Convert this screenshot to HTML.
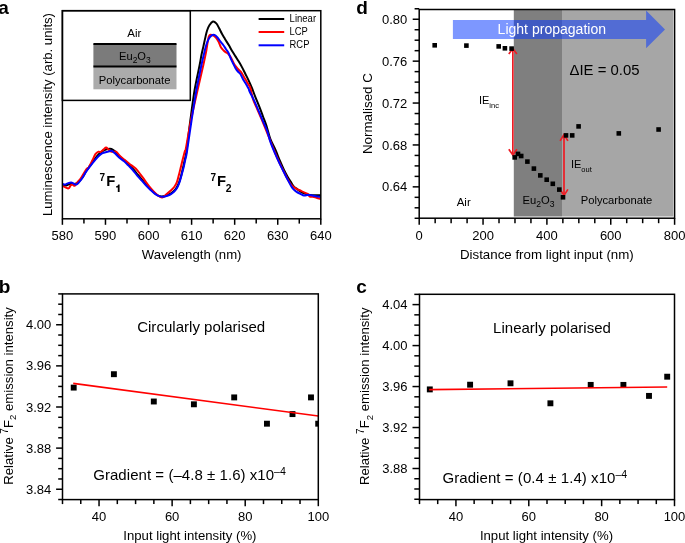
<!DOCTYPE html>
<html><head><meta charset="utf-8"><style>
html,body{margin:0;padding:0;background:#fff;}
svg{display:block;will-change:transform;}
text{font-family:"Liberation Sans", sans-serif;}
</style></head><body>
<svg width="685" height="543" viewBox="0 0 685 543" font-family='"Liberation Sans", sans-serif'>
<rect width="685" height="543" fill="#fff"/>
<text x="-1.8" y="13.6" font-size="19" font-weight="bold">a</text>
<rect x="93.40" y="44.00" width="83.10" height="22.60" fill="#7b7b7b"/>
<rect x="93.40" y="66.60" width="83.10" height="22.70" fill="#ababab"/>
<line x1="93.40" y1="44.10" x2="176.50" y2="44.10" stroke="#000" stroke-width="2.0"/>
<line x1="93.40" y1="66.50" x2="176.50" y2="66.50" stroke="#000" stroke-width="2.0"/>
<text x="134.3" y="36.7" font-size="11.5" text-anchor="middle">Air</text>
<text x="134.9" y="60.2" font-size="11.1" text-anchor="middle">Eu<tspan font-size="8.5" dy="3.2">2</tspan><tspan dy="-3.2">O</tspan><tspan font-size="8.5" dy="3.2">3</tspan></text>
<text x="134.6" y="83.5" font-size="11.7" text-anchor="middle" textLength="71.8" lengthAdjust="spacingAndGlyphs">Polycarbonate</text>
<rect x="62.40" y="10.70" width="127.90" height="89.70" fill="none" stroke="#000" stroke-width="1.5"/>
<clipPath id="ca"><rect x="62.4" y="10.7" width="258.40000000000003" height="208.10000000000002"/></clipPath>
<g clip-path="url(#ca)">
<path d="M62.00,184.50 C62.67,184.67 64.67,185.58 66.00,185.50 C67.33,185.42 68.67,184.25 70.00,184.00 C71.33,183.75 72.67,184.25 74.00,184.00 C75.33,183.75 76.62,183.57 78.00,182.50 C79.38,181.43 80.92,179.55 82.30,177.60 C83.68,175.65 84.95,172.87 86.30,170.80 C87.65,168.73 89.05,167.08 90.40,165.20 C91.75,163.32 93.05,161.28 94.40,159.50 C95.75,157.72 97.15,155.88 98.50,154.50 C99.85,153.12 101.15,152.07 102.50,151.20 C103.85,150.33 105.35,149.70 106.60,149.30 C107.85,148.90 108.93,148.72 110.00,148.80 C111.07,148.88 112.00,149.22 113.00,149.80 C114.00,150.38 114.83,151.13 116.00,152.30 C117.17,153.47 118.58,155.42 120.00,156.80 C121.42,158.18 123.00,159.27 124.50,160.60 C126.00,161.93 127.50,163.33 129.00,164.80 C130.50,166.27 132.00,167.70 133.50,169.40 C135.00,171.10 136.50,173.20 138.00,175.00 C139.50,176.80 141.00,178.47 142.50,180.20 C144.00,181.93 145.50,183.72 147.00,185.40 C148.50,187.08 150.00,188.83 151.50,190.30 C153.00,191.77 154.58,193.22 156.00,194.20 C157.42,195.18 158.75,195.85 160.00,196.20 C161.25,196.55 162.33,196.47 163.50,196.30 C164.67,196.13 165.75,195.70 167.00,195.20 C168.25,194.70 169.67,194.17 171.00,193.30 C172.33,192.43 173.83,191.38 175.00,190.00 C176.17,188.62 177.08,187.00 178.00,185.00 C178.92,183.00 179.75,180.50 180.50,178.00 C181.25,175.50 181.83,172.83 182.50,170.00 C183.17,167.17 183.83,164.17 184.50,161.00 C185.17,157.83 185.52,157.83 186.50,151.00 C187.48,144.17 189.05,130.17 190.40,120.00 C191.75,109.83 193.05,99.20 194.60,90.00 C196.15,80.80 198.55,70.68 199.70,64.80 C200.85,58.92 200.88,57.77 201.50,54.70 C202.12,51.63 202.78,49.17 203.40,46.40 C204.02,43.63 204.60,40.72 205.20,38.10 C205.80,35.48 206.30,32.85 207.00,30.70 C207.70,28.55 208.40,26.73 209.40,25.20 C210.40,23.67 211.85,21.80 213.00,21.50 C214.15,21.20 215.30,22.32 216.30,23.40 C217.30,24.48 218.08,26.32 219.00,28.00 C219.92,29.68 220.88,31.82 221.80,33.50 C222.72,35.18 223.70,36.75 224.50,38.10 C225.30,39.45 225.88,40.45 226.60,41.60 C227.32,42.75 227.88,43.43 228.80,45.00 C229.72,46.57 230.98,49.10 232.10,51.00 C233.22,52.90 234.38,54.63 235.50,56.40 C236.62,58.17 237.70,59.77 238.80,61.60 C239.90,63.43 241.00,65.33 242.10,67.40 C243.20,69.47 244.30,71.80 245.40,74.00 C246.50,76.20 247.60,78.25 248.70,80.60 C249.80,82.95 250.92,85.43 252.00,88.10 C253.08,90.77 253.92,93.35 255.20,96.60 C256.48,99.85 258.40,104.28 259.70,107.60 C261.00,110.92 261.90,113.55 263.00,116.50 C264.10,119.45 265.10,121.62 266.30,125.30 C267.50,128.98 268.67,134.48 270.20,138.60 C271.73,142.72 273.87,146.27 275.50,150.00 C277.13,153.73 278.58,157.67 280.00,161.00 C281.42,164.33 282.67,167.25 284.00,170.00 C285.33,172.75 286.75,175.33 288.00,177.50 C289.25,179.67 290.55,181.52 291.50,183.00 C292.45,184.48 292.72,185.35 293.70,186.40 C294.68,187.45 296.05,188.32 297.40,189.30 C298.75,190.28 300.33,191.50 301.80,192.30 C303.27,193.10 304.73,193.67 306.20,194.10 C307.67,194.53 309.12,194.72 310.60,194.90 C312.08,195.08 313.48,195.15 315.10,195.20 C316.72,195.25 319.43,195.20 320.30,195.20" fill="none" stroke="#000" stroke-width="2.0" stroke-linejoin="round" stroke-linecap="round"/>
<path d="M62.00,185.60 C62.50,185.85 63.90,186.63 65.00,187.10 C66.10,187.57 67.67,188.65 68.60,188.40 C69.53,188.15 69.93,186.23 70.60,185.60 C71.27,184.97 71.92,184.57 72.60,184.60 C73.28,184.63 73.93,186.13 74.70,185.80 C75.47,185.47 76.10,183.98 77.20,182.60 C78.30,181.22 79.78,179.70 81.30,177.50 C82.82,175.30 85.05,171.12 86.30,169.40 C87.55,167.68 87.78,168.72 88.80,167.20 C89.82,165.68 91.30,162.47 92.40,160.30 C93.50,158.13 94.38,155.63 95.40,154.20 C96.42,152.77 97.65,152.07 98.50,151.70 C99.35,151.33 99.67,152.35 100.50,152.00 C101.33,151.65 102.57,150.33 103.50,149.60 C104.43,148.87 105.25,147.60 106.10,147.60 C106.95,147.60 107.68,148.90 108.60,149.60 C109.52,150.30 110.37,151.47 111.60,151.80 C112.83,152.13 114.52,150.80 116.00,151.60 C117.48,152.40 118.83,155.03 120.50,156.60 C122.17,158.17 124.17,159.53 126.00,161.00 C127.83,162.47 129.85,164.12 131.50,165.40 C133.15,166.68 134.42,167.22 135.90,168.70 C137.38,170.18 138.92,172.37 140.40,174.30 C141.88,176.23 143.33,178.28 144.80,180.30 C146.27,182.32 147.73,184.55 149.20,186.40 C150.67,188.25 152.13,189.88 153.60,191.40 C155.07,192.92 156.58,194.47 158.00,195.50 C159.42,196.53 160.75,197.75 162.10,197.60 C163.45,197.45 164.75,195.70 166.10,194.60 C167.45,193.50 168.85,192.27 170.20,191.00 C171.55,189.73 173.10,188.43 174.20,187.00 C175.30,185.57 176.03,184.35 176.80,182.40 C177.57,180.45 178.13,177.83 178.80,175.30 C179.47,172.77 180.13,169.90 180.80,167.20 C181.47,164.50 182.12,161.80 182.80,159.10 C183.48,156.40 184.43,152.52 184.90,151.00 C185.37,149.48 184.58,155.17 185.60,150.00 C186.62,144.83 189.00,130.00 191.00,120.00 C193.00,110.00 195.53,99.20 197.60,90.00 C199.67,80.80 201.98,71.15 203.40,64.80 C204.82,58.45 205.18,56.65 206.10,51.90 C207.02,47.15 207.82,39.07 208.90,36.30 C209.98,33.53 211.37,35.00 212.60,35.30 C213.83,35.60 215.23,36.87 216.30,38.10 C217.37,39.33 218.23,41.17 219.00,42.70 C219.77,44.23 220.13,46.00 220.90,47.30 C221.67,48.60 222.75,49.65 223.60,50.50 C224.45,51.35 225.37,51.97 226.00,52.40 C226.63,52.83 226.82,52.58 227.40,53.10 C227.98,53.62 228.85,54.63 229.50,55.50 C230.15,56.37 230.45,56.73 231.30,58.30 C232.15,59.87 233.50,63.12 234.60,64.90 C235.70,66.68 236.78,67.77 237.90,69.00 C239.02,70.23 240.33,71.05 241.30,72.30 C242.27,73.55 242.88,75.12 243.70,76.50 C244.52,77.88 245.37,79.22 246.20,80.60 C247.03,81.98 248.00,83.55 248.70,84.80 C249.40,86.05 249.65,85.60 250.40,88.10 C251.15,90.60 252.17,96.55 253.20,99.80 C254.23,103.05 255.48,105.00 256.60,107.60 C257.72,110.20 258.80,112.82 259.90,115.40 C261.00,117.98 261.38,118.67 263.20,123.10 C265.02,127.53 268.80,137.02 270.80,142.00 C272.80,146.98 273.73,149.50 275.20,153.00 C276.67,156.50 278.13,159.83 279.60,163.00 C281.07,166.17 282.72,169.43 284.00,172.00 C285.28,174.57 286.22,176.43 287.30,178.40 C288.38,180.37 289.32,182.28 290.50,183.80 C291.68,185.32 293.13,186.52 294.40,187.50 C295.67,188.48 296.98,189.15 298.10,189.70 C299.22,190.25 300.00,190.30 301.10,190.80 C302.20,191.30 303.60,192.20 304.70,192.70 C305.80,193.20 306.83,193.13 307.70,193.80 C308.57,194.47 309.03,196.22 309.90,196.70 C310.77,197.18 311.80,196.52 312.90,196.70 C314.00,196.88 315.27,197.43 316.50,197.80 C317.73,198.17 319.67,198.72 320.30,198.90" fill="none" stroke="#ff0000" stroke-width="2.0" stroke-linejoin="round" stroke-linecap="round"/>
<path d="M62.00,183.80 C62.50,183.93 64.07,184.67 65.00,184.60 C65.93,184.53 66.58,183.77 67.60,183.40 C68.62,183.03 70.08,182.37 71.10,182.40 C72.12,182.43 72.85,183.23 73.70,183.60 C74.55,183.97 75.37,184.77 76.20,184.60 C77.03,184.43 77.68,183.70 78.70,182.60 C79.72,181.50 81.03,179.87 82.30,178.00 C83.57,176.13 84.95,173.43 86.30,171.40 C87.65,169.37 89.05,167.57 90.40,165.80 C91.75,164.03 93.05,162.40 94.40,160.80 C95.75,159.20 97.15,157.47 98.50,156.20 C99.85,154.93 101.15,153.90 102.50,153.20 C103.85,152.50 105.63,152.27 106.60,152.00 C107.57,151.73 107.47,151.82 108.30,151.60 C109.13,151.38 110.50,150.42 111.60,150.70 C112.70,150.98 113.60,152.13 114.90,153.30 C116.20,154.47 117.92,156.42 119.40,157.70 C120.88,158.98 122.33,159.72 123.80,161.00 C125.27,162.28 126.73,163.93 128.20,165.40 C129.67,166.87 131.13,168.13 132.60,169.80 C134.07,171.47 135.52,173.65 137.00,175.40 C138.48,177.15 140.02,178.65 141.50,180.30 C142.98,181.95 144.43,183.73 145.90,185.30 C147.37,186.87 148.83,188.32 150.30,189.70 C151.77,191.08 153.25,192.53 154.70,193.60 C156.15,194.67 157.68,195.57 159.00,196.10 C160.32,196.63 161.42,196.80 162.60,196.80 C163.78,196.80 164.83,196.47 166.10,196.10 C167.37,195.73 168.85,195.37 170.20,194.60 C171.55,193.83 173.02,192.68 174.20,191.50 C175.38,190.32 176.37,189.18 177.30,187.50 C178.23,185.82 179.05,183.60 179.80,181.40 C180.55,179.20 181.12,176.83 181.80,174.30 C182.48,171.77 183.30,168.73 183.90,166.20 C184.50,163.67 184.90,161.47 185.40,159.10 C185.90,156.73 185.87,158.52 186.90,152.00 C187.93,145.48 190.02,130.33 191.60,120.00 C193.18,109.67 194.75,99.20 196.40,90.00 C198.05,80.80 200.27,70.68 201.50,64.80 C202.73,58.92 203.03,57.92 203.80,54.70 C204.57,51.48 205.25,48.18 206.10,45.50 C206.95,42.82 207.97,40.30 208.90,38.60 C209.83,36.90 210.78,35.92 211.70,35.30 C212.62,34.68 213.48,34.58 214.40,34.90 C215.32,35.22 216.28,36.20 217.20,37.20 C218.12,38.20 218.83,39.52 219.90,40.90 C220.97,42.28 222.58,44.12 223.60,45.50 C224.62,46.88 225.22,48.03 226.00,49.20 C226.78,50.37 227.53,51.00 228.30,52.50 C229.07,54.00 229.82,56.42 230.60,58.20 C231.38,59.98 232.18,61.53 233.00,63.20 C233.82,64.87 234.68,66.82 235.50,68.20 C236.32,69.58 237.08,70.53 237.90,71.50 C238.72,72.47 239.57,72.75 240.40,74.00 C241.23,75.25 242.07,77.48 242.90,79.00 C243.73,80.52 244.43,81.45 245.40,83.10 C246.37,84.75 248.03,87.58 248.70,88.90 C249.37,90.22 248.55,89.17 249.40,91.00 C250.25,92.83 252.50,97.13 253.80,99.90 C255.10,102.67 256.08,105.02 257.20,107.60 C258.32,110.18 259.40,112.82 260.50,115.40 C261.60,117.98 262.70,120.53 263.80,123.10 C264.90,125.67 265.98,127.62 267.10,130.80 C268.22,133.98 269.20,138.47 270.50,142.20 C271.80,145.93 273.42,149.72 274.90,153.20 C276.38,156.68 277.92,159.97 279.40,163.10 C280.88,166.23 282.52,169.42 283.80,172.00 C285.08,174.58 286.03,176.55 287.10,178.60 C288.17,180.65 289.23,182.63 290.20,184.30 C291.17,185.97 291.83,187.33 292.90,188.60 C293.97,189.87 295.37,191.03 296.60,191.90 C297.83,192.77 299.07,193.18 300.30,193.80 C301.53,194.42 302.77,195.42 304.00,195.60 C305.23,195.78 306.47,194.97 307.70,194.90 C308.93,194.83 310.05,194.97 311.40,195.20 C312.75,195.43 314.32,196.02 315.80,196.30 C317.28,196.58 319.55,196.80 320.30,196.90" fill="none" stroke="#0000ff" stroke-width="2.0" stroke-linejoin="round" stroke-linecap="round"/>
</g>
<line x1="258.60" y1="19.00" x2="284.20" y2="19.00" stroke="#000" stroke-width="2.0"/>
<line x1="258.60" y1="32.00" x2="284.20" y2="32.00" stroke="#ff0000" stroke-width="2.0"/>
<line x1="258.60" y1="45.30" x2="284.20" y2="45.30" stroke="#0000ff" stroke-width="2.0"/>
<text x="289.6" y="22.3" font-size="10" textLength="26.5" lengthAdjust="spacingAndGlyphs">Linear</text>
<text x="289.6" y="34.9" font-size="10" textLength="18.3" lengthAdjust="spacingAndGlyphs">LCP</text>
<text x="289.6" y="48.0" font-size="10" textLength="19.8" lengthAdjust="spacingAndGlyphs">RCP</text>
<text x="99.6" y="180.6" font-size="10" font-weight="bold">7</text>
<text x="106.3" y="186.3" font-size="14.8" font-weight="bold">F</text>
<path d="M117.8,191.9 L119.6,191.9 L119.6,184.6 L118.2,184.6 C118.0,185.6 117.3,186.2 116.1,186.3 L116.1,187.6 L117.8,187.6 Z" fill="#000"/>
<text x="210.5" y="180.6" font-size="10" font-weight="bold">7</text>
<text x="216.9" y="186.3" font-size="14.8" font-weight="bold">F</text>
<text x="225.8" y="191.9" font-size="10.3" font-weight="bold">2</text>
<rect x="62.40" y="10.70" width="258.40" height="208.10" fill="none" stroke="#000" stroke-width="1.5"/>
<line x1="62.40" y1="218.80" x2="62.40" y2="224.80" stroke="#000" stroke-width="1.5"/>
<line x1="83.93" y1="218.80" x2="83.93" y2="223.60" stroke="#000" stroke-width="1.5"/>
<line x1="105.47" y1="218.80" x2="105.47" y2="224.80" stroke="#000" stroke-width="1.5"/>
<line x1="127.00" y1="218.80" x2="127.00" y2="223.60" stroke="#000" stroke-width="1.5"/>
<line x1="148.53" y1="218.80" x2="148.53" y2="224.80" stroke="#000" stroke-width="1.5"/>
<line x1="170.07" y1="218.80" x2="170.07" y2="223.60" stroke="#000" stroke-width="1.5"/>
<line x1="191.60" y1="218.80" x2="191.60" y2="224.80" stroke="#000" stroke-width="1.5"/>
<line x1="213.13" y1="218.80" x2="213.13" y2="223.60" stroke="#000" stroke-width="1.5"/>
<line x1="234.67" y1="218.80" x2="234.67" y2="224.80" stroke="#000" stroke-width="1.5"/>
<line x1="256.20" y1="218.80" x2="256.20" y2="223.60" stroke="#000" stroke-width="1.5"/>
<line x1="277.73" y1="218.80" x2="277.73" y2="224.80" stroke="#000" stroke-width="1.5"/>
<line x1="299.27" y1="218.80" x2="299.27" y2="223.60" stroke="#000" stroke-width="1.5"/>
<line x1="320.80" y1="218.80" x2="320.80" y2="224.80" stroke="#000" stroke-width="1.5"/>
<text x="62.40" y="240.0" font-size="13" text-anchor="middle">580</text>
<text x="105.47" y="240.0" font-size="13" text-anchor="middle">590</text>
<text x="148.53" y="240.0" font-size="13" text-anchor="middle">600</text>
<text x="191.60" y="240.0" font-size="13" text-anchor="middle">610</text>
<text x="234.67" y="240.0" font-size="13" text-anchor="middle">620</text>
<text x="277.73" y="240.0" font-size="13" text-anchor="middle">630</text>
<text x="320.80" y="240.0" font-size="13" text-anchor="middle">640</text>
<text x="191.6" y="259.2" font-size="13" text-anchor="middle" textLength="99.8" lengthAdjust="spacingAndGlyphs">Wavelength (nm)</text>
<text transform="translate(52.3,114.5) rotate(-90)" font-size="13" text-anchor="middle" textLength="203" lengthAdjust="spacingAndGlyphs">Luminescence intensity (arb. units)</text>
<text x="356.3" y="13.6" font-size="19" font-weight="bold">d</text>
<rect x="513.80" y="9.50" width="48.20" height="207.00" fill="#7f7f7f"/>
<rect x="562.00" y="9.50" width="111.30" height="207.00" fill="#a6a6a6"/>
<path d="M452.9,20 L646.1,20 L646.1,10.6 L665,29.5 L646.1,48.2 L646.1,38.9 L452.9,38.9 Z" fill="#0537ff" fill-opacity="0.52"/>
<text x="551.8" y="33.7" font-size="14" text-anchor="middle" fill="#fff" textLength="108.4" lengthAdjust="spacingAndGlyphs">Light propagation</text>
<line x1="512.85" y1="49.50" x2="512.85" y2="154.60" stroke="#ee1c24" stroke-width="1.7"/>
<polyline points="508.8,53.9 512.85,48.6 516.9,53.9" fill="none" stroke="#ee1c24" stroke-width="1.7"/>
<polyline points="508.8,149.3 512.85,155.0 516.9,149.3" fill="none" stroke="#ee1c24" stroke-width="1.7"/>
<line x1="564.00" y1="135.00" x2="564.00" y2="195.00" stroke="#ee1c24" stroke-width="1.7"/>
<polyline points="560.1,140.9 564.0,134.6 567.9,140.9" fill="none" stroke="#ee1c24" stroke-width="1.7"/>
<polyline points="560.1,189.4 564.0,195.5 567.9,189.4" fill="none" stroke="#ee1c24" stroke-width="1.7"/>
<rect x="432.40" y="43.00" width="4.60" height="4.60" fill="#000"/>
<rect x="464.10" y="43.30" width="4.60" height="4.60" fill="#000"/>
<rect x="496.40" y="44.10" width="4.60" height="4.60" fill="#000"/>
<rect x="502.60" y="46.00" width="4.60" height="4.60" fill="#000"/>
<rect x="509.30" y="46.30" width="4.60" height="4.60" fill="#000"/>
<rect x="512.40" y="155.10" width="4.60" height="4.60" fill="#000"/>
<rect x="515.70" y="151.60" width="4.60" height="4.60" fill="#000"/>
<rect x="518.90" y="153.70" width="4.60" height="4.60" fill="#000"/>
<rect x="525.10" y="159.30" width="4.60" height="4.60" fill="#000"/>
<rect x="531.60" y="166.30" width="4.60" height="4.60" fill="#000"/>
<rect x="538.00" y="173.10" width="4.60" height="4.60" fill="#000"/>
<rect x="544.40" y="177.40" width="4.60" height="4.60" fill="#000"/>
<rect x="550.50" y="181.50" width="4.60" height="4.60" fill="#000"/>
<rect x="557.00" y="187.30" width="4.60" height="4.60" fill="#000"/>
<rect x="560.70" y="195.00" width="4.60" height="4.60" fill="#000"/>
<rect x="563.70" y="133.10" width="4.60" height="4.60" fill="#000"/>
<rect x="569.90" y="133.10" width="4.60" height="4.60" fill="#000"/>
<rect x="576.30" y="124.10" width="4.60" height="4.60" fill="#000"/>
<rect x="616.50" y="131.10" width="4.60" height="4.60" fill="#000"/>
<rect x="656.30" y="127.20" width="4.60" height="4.60" fill="#000"/>
<text x="569.5" y="75.4" font-size="15" textLength="70" lengthAdjust="spacingAndGlyphs">ΔIE = 0.05</text>
<text x="478.9" y="104.3" font-size="11">IE<tspan font-size="7.5" dy="3.7">inc</tspan></text>
<text x="570.9" y="167.9" font-size="11">IE<tspan font-size="7.5" dy="3.9">out</tspan></text>
<text x="463.7" y="205.7" font-size="11.5" text-anchor="middle">Air</text>
<text x="522.5" y="203.9" font-size="11.2">Eu<tspan font-size="8.6" dy="3.4">2</tspan><tspan dy="-3.4">O</tspan><tspan font-size="8.6" dy="3.4">3</tspan></text>
<text x="616.5" y="204.1" font-size="11.2" text-anchor="middle" textLength="71.5" lengthAdjust="spacingAndGlyphs">Polycarbonate</text>
<rect x="419.20" y="9.50" width="255.40" height="208.70" fill="none" stroke="#000" stroke-width="1.5"/>
<line x1="419.20" y1="218.20" x2="419.20" y2="224.80" stroke="#000" stroke-width="1.5"/>
<line x1="435.16" y1="218.20" x2="435.16" y2="223.20" stroke="#000" stroke-width="1.5"/>
<line x1="451.12" y1="218.20" x2="451.12" y2="223.20" stroke="#000" stroke-width="1.5"/>
<line x1="467.09" y1="218.20" x2="467.09" y2="223.20" stroke="#000" stroke-width="1.5"/>
<line x1="483.05" y1="218.20" x2="483.05" y2="224.80" stroke="#000" stroke-width="1.5"/>
<line x1="499.01" y1="218.20" x2="499.01" y2="223.20" stroke="#000" stroke-width="1.5"/>
<line x1="514.98" y1="218.20" x2="514.98" y2="223.20" stroke="#000" stroke-width="1.5"/>
<line x1="530.94" y1="218.20" x2="530.94" y2="223.20" stroke="#000" stroke-width="1.5"/>
<line x1="546.90" y1="218.20" x2="546.90" y2="224.80" stroke="#000" stroke-width="1.5"/>
<line x1="562.86" y1="218.20" x2="562.86" y2="223.20" stroke="#000" stroke-width="1.5"/>
<line x1="578.83" y1="218.20" x2="578.83" y2="223.20" stroke="#000" stroke-width="1.5"/>
<line x1="594.79" y1="218.20" x2="594.79" y2="223.20" stroke="#000" stroke-width="1.5"/>
<line x1="610.75" y1="218.20" x2="610.75" y2="224.80" stroke="#000" stroke-width="1.5"/>
<line x1="626.71" y1="218.20" x2="626.71" y2="223.20" stroke="#000" stroke-width="1.5"/>
<line x1="642.67" y1="218.20" x2="642.67" y2="223.20" stroke="#000" stroke-width="1.5"/>
<line x1="658.64" y1="218.20" x2="658.64" y2="223.20" stroke="#000" stroke-width="1.5"/>
<line x1="674.60" y1="218.20" x2="674.60" y2="224.80" stroke="#000" stroke-width="1.5"/>
<text x="419.20" y="240.2" font-size="13" text-anchor="middle">0</text>
<text x="483.05" y="240.2" font-size="13" text-anchor="middle">200</text>
<text x="546.90" y="240.2" font-size="13" text-anchor="middle">400</text>
<text x="610.75" y="240.2" font-size="13" text-anchor="middle">600</text>
<text x="674.60" y="240.2" font-size="13" text-anchor="middle">800</text>
<line x1="414.60" y1="218.28" x2="419.20" y2="218.28" stroke="#000" stroke-width="1.5"/>
<line x1="414.60" y1="207.80" x2="419.20" y2="207.80" stroke="#000" stroke-width="1.5"/>
<line x1="414.60" y1="197.33" x2="419.20" y2="197.33" stroke="#000" stroke-width="1.5"/>
<line x1="412.70" y1="186.85" x2="419.20" y2="186.85" stroke="#000" stroke-width="1.5"/>
<line x1="414.60" y1="176.38" x2="419.20" y2="176.38" stroke="#000" stroke-width="1.5"/>
<line x1="414.60" y1="165.90" x2="419.20" y2="165.90" stroke="#000" stroke-width="1.5"/>
<line x1="414.60" y1="155.43" x2="419.20" y2="155.43" stroke="#000" stroke-width="1.5"/>
<line x1="412.70" y1="144.95" x2="419.20" y2="144.95" stroke="#000" stroke-width="1.5"/>
<line x1="414.60" y1="134.48" x2="419.20" y2="134.48" stroke="#000" stroke-width="1.5"/>
<line x1="414.60" y1="124.00" x2="419.20" y2="124.00" stroke="#000" stroke-width="1.5"/>
<line x1="414.60" y1="113.53" x2="419.20" y2="113.53" stroke="#000" stroke-width="1.5"/>
<line x1="412.70" y1="103.05" x2="419.20" y2="103.05" stroke="#000" stroke-width="1.5"/>
<line x1="414.60" y1="92.58" x2="419.20" y2="92.58" stroke="#000" stroke-width="1.5"/>
<line x1="414.60" y1="82.10" x2="419.20" y2="82.10" stroke="#000" stroke-width="1.5"/>
<line x1="414.60" y1="71.63" x2="419.20" y2="71.63" stroke="#000" stroke-width="1.5"/>
<line x1="412.70" y1="61.15" x2="419.20" y2="61.15" stroke="#000" stroke-width="1.5"/>
<line x1="414.60" y1="50.68" x2="419.20" y2="50.68" stroke="#000" stroke-width="1.5"/>
<line x1="414.60" y1="40.20" x2="419.20" y2="40.20" stroke="#000" stroke-width="1.5"/>
<line x1="414.60" y1="29.73" x2="419.20" y2="29.73" stroke="#000" stroke-width="1.5"/>
<line x1="412.70" y1="19.25" x2="419.20" y2="19.25" stroke="#000" stroke-width="1.5"/>
<line x1="414.60" y1="8.77" x2="419.20" y2="8.77" stroke="#000" stroke-width="1.5"/>
<text x="407.3" y="191.45" font-size="13" text-anchor="end">0.64</text>
<text x="407.3" y="149.55" font-size="13" text-anchor="end">0.68</text>
<text x="407.3" y="107.65" font-size="13" text-anchor="end">0.72</text>
<text x="407.3" y="65.75" font-size="13" text-anchor="end">0.76</text>
<text x="407.3" y="23.85" font-size="13" text-anchor="end">0.80</text>
<text x="546.85" y="259.2" font-size="13" text-anchor="middle" textLength="173.8" lengthAdjust="spacingAndGlyphs">Distance from light input (nm)</text>
<text transform="translate(371.9,113.6) rotate(-90)" font-size="13" text-anchor="middle" textLength="81.0" lengthAdjust="spacingAndGlyphs">Normalised C</text>
<text x="-1.3" y="292.8" font-size="19" font-weight="bold">b</text>
<clipPath id="cb"><rect x="62.5" y="293.9" width="255.8" height="205.70000000000005"/></clipPath>
<g clip-path="url(#cb)">
<rect x="70.75" y="384.65" width="5.90" height="5.90" fill="#000"/>
<rect x="110.95" y="371.25" width="5.90" height="5.90" fill="#000"/>
<rect x="150.85" y="398.55" width="5.90" height="5.90" fill="#000"/>
<rect x="190.95" y="401.35" width="5.90" height="5.90" fill="#000"/>
<rect x="231.25" y="394.45" width="5.90" height="5.90" fill="#000"/>
<rect x="264.00" y="420.75" width="5.90" height="5.90" fill="#000"/>
<rect x="289.55" y="411.15" width="5.90" height="5.90" fill="#000"/>
<rect x="308.05" y="394.45" width="5.90" height="5.90" fill="#000"/>
<rect x="315.25" y="420.75" width="5.90" height="5.90" fill="#000"/>
</g>
<line x1="73.20" y1="383.40" x2="318.30" y2="416.00" stroke="#ff0000" stroke-width="1.6"/>
<rect x="62.50" y="293.90" width="255.80" height="205.70" fill="none" stroke="#000" stroke-width="1.5"/>
<line x1="62.50" y1="499.60" x2="62.50" y2="504.10" stroke="#000" stroke-width="1.5"/>
<line x1="80.77" y1="499.60" x2="80.77" y2="504.10" stroke="#000" stroke-width="1.5"/>
<line x1="99.04" y1="499.60" x2="99.04" y2="506.20" stroke="#000" stroke-width="1.5"/>
<line x1="117.31" y1="499.60" x2="117.31" y2="504.10" stroke="#000" stroke-width="1.5"/>
<line x1="135.59" y1="499.60" x2="135.59" y2="504.10" stroke="#000" stroke-width="1.5"/>
<line x1="153.86" y1="499.60" x2="153.86" y2="504.10" stroke="#000" stroke-width="1.5"/>
<line x1="172.13" y1="499.60" x2="172.13" y2="506.20" stroke="#000" stroke-width="1.5"/>
<line x1="190.40" y1="499.60" x2="190.40" y2="504.10" stroke="#000" stroke-width="1.5"/>
<line x1="208.67" y1="499.60" x2="208.67" y2="504.10" stroke="#000" stroke-width="1.5"/>
<line x1="226.94" y1="499.60" x2="226.94" y2="504.10" stroke="#000" stroke-width="1.5"/>
<line x1="245.21" y1="499.60" x2="245.21" y2="506.20" stroke="#000" stroke-width="1.5"/>
<line x1="263.49" y1="499.60" x2="263.49" y2="504.10" stroke="#000" stroke-width="1.5"/>
<line x1="281.76" y1="499.60" x2="281.76" y2="504.10" stroke="#000" stroke-width="1.5"/>
<line x1="300.03" y1="499.60" x2="300.03" y2="504.10" stroke="#000" stroke-width="1.5"/>
<line x1="318.30" y1="499.60" x2="318.30" y2="506.20" stroke="#000" stroke-width="1.5"/>
<text x="99.04" y="520.6" font-size="13" text-anchor="middle">40</text>
<text x="172.13" y="520.6" font-size="13" text-anchor="middle">60</text>
<text x="245.21" y="520.6" font-size="13" text-anchor="middle">80</text>
<text x="318.30" y="520.6" font-size="13" text-anchor="middle">100</text>
<line x1="58.20" y1="499.52" x2="62.50" y2="499.52" stroke="#000" stroke-width="1.5"/>
<line x1="56.10" y1="489.24" x2="62.50" y2="489.24" stroke="#000" stroke-width="1.5"/>
<line x1="58.20" y1="478.96" x2="62.50" y2="478.96" stroke="#000" stroke-width="1.5"/>
<line x1="58.20" y1="468.68" x2="62.50" y2="468.68" stroke="#000" stroke-width="1.5"/>
<line x1="58.20" y1="458.40" x2="62.50" y2="458.40" stroke="#000" stroke-width="1.5"/>
<line x1="56.10" y1="448.12" x2="62.50" y2="448.12" stroke="#000" stroke-width="1.5"/>
<line x1="58.20" y1="437.84" x2="62.50" y2="437.84" stroke="#000" stroke-width="1.5"/>
<line x1="58.20" y1="427.56" x2="62.50" y2="427.56" stroke="#000" stroke-width="1.5"/>
<line x1="58.20" y1="417.28" x2="62.50" y2="417.28" stroke="#000" stroke-width="1.5"/>
<line x1="56.10" y1="407.00" x2="62.50" y2="407.00" stroke="#000" stroke-width="1.5"/>
<line x1="58.20" y1="396.72" x2="62.50" y2="396.72" stroke="#000" stroke-width="1.5"/>
<line x1="58.20" y1="386.44" x2="62.50" y2="386.44" stroke="#000" stroke-width="1.5"/>
<line x1="58.20" y1="376.16" x2="62.50" y2="376.16" stroke="#000" stroke-width="1.5"/>
<line x1="56.10" y1="365.88" x2="62.50" y2="365.88" stroke="#000" stroke-width="1.5"/>
<line x1="58.20" y1="355.60" x2="62.50" y2="355.60" stroke="#000" stroke-width="1.5"/>
<line x1="58.20" y1="345.32" x2="62.50" y2="345.32" stroke="#000" stroke-width="1.5"/>
<line x1="58.20" y1="335.04" x2="62.50" y2="335.04" stroke="#000" stroke-width="1.5"/>
<line x1="56.10" y1="324.76" x2="62.50" y2="324.76" stroke="#000" stroke-width="1.5"/>
<line x1="58.20" y1="314.48" x2="62.50" y2="314.48" stroke="#000" stroke-width="1.5"/>
<line x1="58.20" y1="304.20" x2="62.50" y2="304.20" stroke="#000" stroke-width="1.5"/>
<line x1="58.20" y1="293.92" x2="62.50" y2="293.92" stroke="#000" stroke-width="1.5"/>
<text x="51.3" y="493.84" font-size="13" text-anchor="end">3.84</text>
<text x="51.3" y="452.72" font-size="13" text-anchor="end">3.88</text>
<text x="51.3" y="411.60" font-size="13" text-anchor="end">3.92</text>
<text x="51.3" y="370.48" font-size="13" text-anchor="end">3.96</text>
<text x="51.3" y="329.36" font-size="13" text-anchor="end">4.00</text>
<text x="189.90" y="539.9" font-size="13" text-anchor="middle" textLength="133.2" lengthAdjust="spacingAndGlyphs">Input light intensity (%)</text>
<text x="201.2" y="332.2" font-size="15" text-anchor="middle" textLength="128.1" lengthAdjust="spacingAndGlyphs">Circularly polarised</text>
<text x="93.2" y="480.4" font-size="15" textLength="180.9" lengthAdjust="spacing">Gradient = (–4.8 ± 1.6) x10</text>
<text x="274.0" y="474.6" font-size="10.6">–4</text>
<text transform="translate(13.0,396.0) rotate(-90)" font-size="13" text-anchor="middle" textLength="177.6" lengthAdjust="spacingAndGlyphs">Relative <tspan font-size="10" dy="-5">7</tspan><tspan dy="5">F</tspan><tspan font-size="9.5" dy="3.2">2</tspan><tspan dy="-3.2"> emission intensity</tspan></text>
<text x="356.3" y="292.8" font-size="19" font-weight="bold">c</text>
<clipPath id="cc"><rect x="419.5" y="294.3" width="255.0" height="205.3"/></clipPath>
<g clip-path="url(#cc)">
<rect x="426.85" y="386.45" width="5.90" height="5.90" fill="#000"/>
<rect x="467.15" y="381.75" width="5.90" height="5.90" fill="#000"/>
<rect x="507.55" y="380.35" width="5.90" height="5.90" fill="#000"/>
<rect x="547.45" y="400.35" width="5.90" height="5.90" fill="#000"/>
<rect x="587.75" y="381.95" width="5.90" height="5.90" fill="#000"/>
<rect x="620.45" y="381.95" width="5.90" height="5.90" fill="#000"/>
<rect x="646.05" y="392.95" width="5.90" height="5.90" fill="#000"/>
<rect x="664.25" y="373.75" width="5.90" height="5.90" fill="#000"/>
</g>
<line x1="429.20" y1="389.60" x2="667.20" y2="387.00" stroke="#ff0000" stroke-width="1.6"/>
<rect x="419.50" y="294.30" width="255.00" height="205.30" fill="none" stroke="#000" stroke-width="1.5"/>
<line x1="419.50" y1="499.60" x2="419.50" y2="504.10" stroke="#000" stroke-width="1.5"/>
<line x1="437.71" y1="499.60" x2="437.71" y2="504.10" stroke="#000" stroke-width="1.5"/>
<line x1="455.93" y1="499.60" x2="455.93" y2="506.20" stroke="#000" stroke-width="1.5"/>
<line x1="474.14" y1="499.60" x2="474.14" y2="504.10" stroke="#000" stroke-width="1.5"/>
<line x1="492.36" y1="499.60" x2="492.36" y2="504.10" stroke="#000" stroke-width="1.5"/>
<line x1="510.57" y1="499.60" x2="510.57" y2="504.10" stroke="#000" stroke-width="1.5"/>
<line x1="528.79" y1="499.60" x2="528.79" y2="506.20" stroke="#000" stroke-width="1.5"/>
<line x1="547.00" y1="499.60" x2="547.00" y2="504.10" stroke="#000" stroke-width="1.5"/>
<line x1="565.21" y1="499.60" x2="565.21" y2="504.10" stroke="#000" stroke-width="1.5"/>
<line x1="583.43" y1="499.60" x2="583.43" y2="504.10" stroke="#000" stroke-width="1.5"/>
<line x1="601.64" y1="499.60" x2="601.64" y2="506.20" stroke="#000" stroke-width="1.5"/>
<line x1="619.86" y1="499.60" x2="619.86" y2="504.10" stroke="#000" stroke-width="1.5"/>
<line x1="638.07" y1="499.60" x2="638.07" y2="504.10" stroke="#000" stroke-width="1.5"/>
<line x1="656.29" y1="499.60" x2="656.29" y2="504.10" stroke="#000" stroke-width="1.5"/>
<line x1="674.50" y1="499.60" x2="674.50" y2="506.20" stroke="#000" stroke-width="1.5"/>
<text x="455.93" y="520.6" font-size="13" text-anchor="middle">40</text>
<text x="528.79" y="520.6" font-size="13" text-anchor="middle">60</text>
<text x="601.64" y="520.6" font-size="13" text-anchor="middle">80</text>
<text x="674.50" y="520.6" font-size="13" text-anchor="middle">100</text>
<line x1="414.30" y1="499.24" x2="419.50" y2="499.24" stroke="#000" stroke-width="1.5"/>
<line x1="414.30" y1="488.99" x2="419.50" y2="488.99" stroke="#000" stroke-width="1.5"/>
<line x1="414.30" y1="478.75" x2="419.50" y2="478.75" stroke="#000" stroke-width="1.5"/>
<line x1="412.50" y1="468.50" x2="419.50" y2="468.50" stroke="#000" stroke-width="1.5"/>
<line x1="414.30" y1="458.26" x2="419.50" y2="458.26" stroke="#000" stroke-width="1.5"/>
<line x1="414.30" y1="448.02" x2="419.50" y2="448.02" stroke="#000" stroke-width="1.5"/>
<line x1="414.30" y1="437.77" x2="419.50" y2="437.77" stroke="#000" stroke-width="1.5"/>
<line x1="412.50" y1="427.53" x2="419.50" y2="427.53" stroke="#000" stroke-width="1.5"/>
<line x1="414.30" y1="417.28" x2="419.50" y2="417.28" stroke="#000" stroke-width="1.5"/>
<line x1="414.30" y1="407.04" x2="419.50" y2="407.04" stroke="#000" stroke-width="1.5"/>
<line x1="414.30" y1="396.80" x2="419.50" y2="396.80" stroke="#000" stroke-width="1.5"/>
<line x1="412.50" y1="386.55" x2="419.50" y2="386.55" stroke="#000" stroke-width="1.5"/>
<line x1="414.30" y1="376.31" x2="419.50" y2="376.31" stroke="#000" stroke-width="1.5"/>
<line x1="414.30" y1="366.06" x2="419.50" y2="366.06" stroke="#000" stroke-width="1.5"/>
<line x1="414.30" y1="355.82" x2="419.50" y2="355.82" stroke="#000" stroke-width="1.5"/>
<line x1="412.50" y1="345.58" x2="419.50" y2="345.58" stroke="#000" stroke-width="1.5"/>
<line x1="414.30" y1="335.33" x2="419.50" y2="335.33" stroke="#000" stroke-width="1.5"/>
<line x1="414.30" y1="325.09" x2="419.50" y2="325.09" stroke="#000" stroke-width="1.5"/>
<line x1="414.30" y1="314.84" x2="419.50" y2="314.84" stroke="#000" stroke-width="1.5"/>
<line x1="412.50" y1="304.60" x2="419.50" y2="304.60" stroke="#000" stroke-width="1.5"/>
<line x1="414.30" y1="294.36" x2="419.50" y2="294.36" stroke="#000" stroke-width="1.5"/>
<text x="407.6" y="473.10" font-size="13" text-anchor="end">3.88</text>
<text x="407.6" y="432.13" font-size="13" text-anchor="end">3.92</text>
<text x="407.6" y="391.15" font-size="13" text-anchor="end">3.96</text>
<text x="407.6" y="350.18" font-size="13" text-anchor="end">4.00</text>
<text x="407.6" y="309.20" font-size="13" text-anchor="end">4.04</text>
<text x="546.50" y="539.9" font-size="13" text-anchor="middle" textLength="133.2" lengthAdjust="spacingAndGlyphs">Input light intensity (%)</text>
<text x="552.0" y="333.1" font-size="15" text-anchor="middle" textLength="117.8" lengthAdjust="spacingAndGlyphs">Linearly polarised</text>
<text x="442.5" y="483.4" font-size="15" textLength="172.9" lengthAdjust="spacing">Gradient = (0.4 ± 1.4) x10</text>
<text x="615.4" y="477.7" font-size="10.6">–4</text>
<text transform="translate(369.3,396.3) rotate(-90)" font-size="13" text-anchor="middle" textLength="177.6" lengthAdjust="spacingAndGlyphs">Relative <tspan font-size="10" dy="-5">7</tspan><tspan dy="5">F</tspan><tspan font-size="9.5" dy="3.2">2</tspan><tspan dy="-3.2"> emission intensity</tspan></text>
</svg>
</body></html>
